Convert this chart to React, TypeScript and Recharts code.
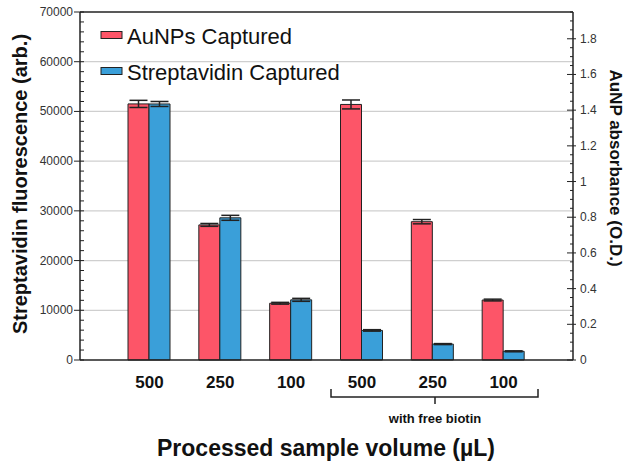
import React from "react";
import {
  Bar,
  BarChart,
  CartesianGrid,
  Customized,
  ErrorBar,
  XAxis,
  YAxis,
} from "recharts";

const volumes = ["500", "250", "100", "500", "250", "100"];
const auNPAbsorbance = [1.435, 0.757, 0.318, 1.432, 0.775, 0.336];
const auNPError = [0.02, 0.008, 0.005, 0.025, 0.012, 0.005];
const streptavidinFluor = [51500, 28600, 12100, 5950, 3200, 1750];
const streptavidinError = [500, 500, 300, 150, 100, 100];

const leftMajorTicks = [0, 10000, 20000, 30000, 40000, 50000, 60000, 70000];
const rightMajorTicks = [0, 0.2, 0.4, 0.6, 0.8, 1, 1.2, 1.4, 1.6, 1.8];
const gridTicks = [10000, 20000, 30000, 40000, 50000, 60000];

// minor ticks every 2000 (left) and 0.05 (right)
const leftTicks = Array.from({ length: 36 }, (_, i) => i * 2000);
const rightTicks = Array.from({ length: 40 }, (_, i) => Math.round(i * 5) / 100);

const data = volumes.map((vol, i) => ({
  vol,
  au: auNPAbsorbance[i],
  auErr: auNPError[i],
  sa: streptavidinFluor[i],
  saErr: streptavidinError[i],
}));

const W = 634;
const H = 470;
const LEFT_W = 80;
const RIGHT_W = 61;
const TOP = 12;
const RED = "#fd5568";
const BLUE = "#3a9fd9";
const FONT = '"Liberation Sans", Arial, Helvetica, sans-serif';

function LeftTick({ y, payload }: any) {
  const x = LEFT_W;
  const v = payload.value;
  const major = leftMajorTicks.includes(v);
  return (
    <g>
      <line x1={major ? x - 6 : x} x2={x + 4} y1={y} y2={y} stroke="#222" strokeWidth={1} />
      {major && (
        <text x={x - 7} y={y} dy={4} textAnchor="end" fontSize={12} fill="#333" fontFamily={FONT}>
          {v}
        </text>
      )}
    </g>
  );
}

function RightTick({ y, payload }: any) {
  const x = W - RIGHT_W;
  const v = payload.value;
  const major = rightMajorTicks.some((t) => Math.abs(t - v) < 1e-6);
  return (
    <g>
      <line x1={major ? x - 6 : x - 3} x2={major ? x + 3 : x} y1={y} y2={y} stroke="#222" strokeWidth={1} />
      {major && (
        <text x={x + 7} y={y} dy={4} textAnchor="start" fontSize={12} fill="#333" fontFamily={FONT}>
          {String(Math.round(v * 10) / 10)}
        </text>
      )}
    </g>
  );
}

function Annotations() {
  return (
    <g fontFamily={FONT} fill="#111">
      {/* top frame line */}
      <line x1={LEFT_W} x2={W - RIGHT_W} y1={TOP} y2={TOP} stroke="#222" strokeWidth={1.5} />

      {/* legend */}
      <rect x={101} y={31.5} width={21} height={7} fill={RED} stroke="#222" />
      <text x={127} y={44} fontSize={22}>AuNPs Captured</text>
      <rect x={101} y={67.5} width={21} height={7} fill={BLUE} stroke="#222" />
      <text x={127} y={80} fontSize={22}>Streptavidin Captured</text>

      {/* bracket under the free biotin group */}
      <path d="M331 389 V397 H538 V389 M435 397 V404" fill="none" stroke="#222" strokeWidth={1.5} />
      <text x={435} y={423} textAnchor="middle" fontSize={13} fontWeight="bold">
        with free biotin
      </text>

      <text x={326} y={456} textAnchor="middle" fontSize={23} fontWeight="bold">
        Processed sample volume (µL)
      </text>
      <text x={0} y={0} textAnchor="middle" fontSize={20} fontWeight="bold" transform="translate(27 184) rotate(-90)">
        Streptavidin fluorescence (arb.)
      </text>
      <text x={0} y={0} textAnchor="middle" fontSize={17} fontWeight="bold" transform="translate(610 168) rotate(90)">
        AuNP absorbance (O.D.)
      </text>
    </g>
  );
}

export default function App() {
  return (
    <div style={{ position: "absolute", left: 0, top: 0, background: "#fff" }}>
      <BarChart
        width={W}
        height={H}
        data={data}
        margin={{ top: TOP, right: 0, left: 0, bottom: 0 }}
        barGap={0}
        barSize={21}
        style={{ fontFamily: FONT }}
      >
        <CartesianGrid
          yAxisId="left"
          vertical={false}
          horizontalValues={gridTicks}
          stroke="#cfcfcf"
          strokeWidth={1.2}
        />
        <XAxis
          dataKey="vol"
          height={110}
          padding={{ left: 34, right: 34 }}
          axisLine={{ stroke: "#222", strokeWidth: 1.5 }}
          tickLine={false}
          tickSize={0}
          tickMargin={16}
          interval={0}
          tick={{ fill: "#111", fontSize: 17, fontWeight: "bold", fontFamily: FONT }}
        />
        <YAxis
          yAxisId="left"
          orientation="left"
          width={LEFT_W}
          domain={[0, 70000]}
          ticks={leftTicks}
          interval={0}
          tickSize={0}
          tickMargin={0}
          tickLine={false}
          axisLine={{ stroke: "#222", strokeWidth: 1.5 }}
          tick={(p: any) => <LeftTick {...p} />}
        />
        <YAxis
          yAxisId="right"
          orientation="right"
          width={RIGHT_W}
          domain={[0, 1.95]}
          ticks={rightTicks}
          interval={0}
          tickSize={0}
          tickMargin={0}
          tickLine={false}
          axisLine={{ stroke: "#222", strokeWidth: 1.5 }}
          tick={(p: any) => <RightTick {...p} />}
        />
        <Bar
          dataKey="au"
          name="AuNPs Captured"
          yAxisId="right"
          fill={RED}
          stroke="#222"
          strokeWidth={1}
          isAnimationActive={false}
        >
          <ErrorBar dataKey="auErr" width={9} stroke="#222" strokeWidth={1.5} isAnimationActive={false} />
        </Bar>
        <Bar
          dataKey="sa"
          name="Streptavidin Captured"
          yAxisId="left"
          fill={BLUE}
          stroke="#222"
          strokeWidth={1}
          isAnimationActive={false}
        >
          <ErrorBar dataKey="saErr" width={9} stroke="#222" strokeWidth={1.5} isAnimationActive={false} />
        </Bar>
        <Customized component={Annotations} />
      </BarChart>
    </div>
  );
}
